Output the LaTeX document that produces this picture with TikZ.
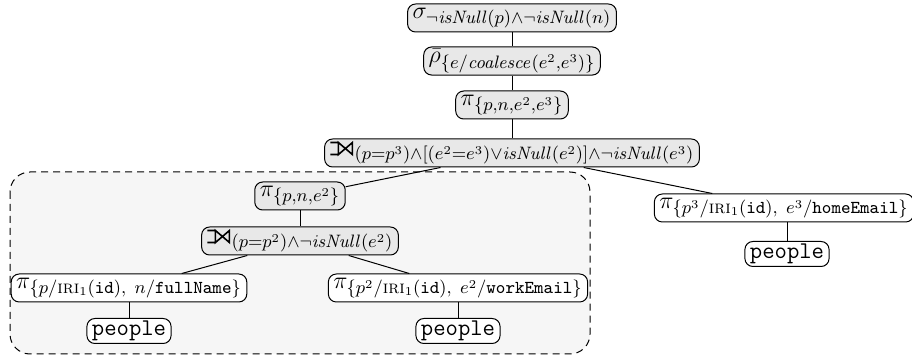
\documentclass[tikz,border=0pt]{standalone}
\usepackage{amsmath}
\usetikzlibrary{positioning}
\definecolor{opgray}{HTML}{E8E8E8}
\definecolor{boxgray}{HTML}{F6F6F6}
\newcommand{\mylojoin}{\mathbin{\tikz[baseline=0pt,x=1pt,y=1pt,line width=0.8pt,sharp corners,miter limit=4]\draw[fill=none] (0,6)--(4,6)--(4,0)--(0,0) (4,0)--(4,6)--(11,0)--(11,6)--cycle;\mkern1mu}}
\newcommand{\tts}[1]{\text{\texttt{#1}}}
\newcommand{\iri}{\text{\textsc{iri}}}
\begin{document}
\begin{tikzpicture}[x=0.5pt,y=-0.5pt,
  opnode/.style={draw,rounded corners=4pt,fill=opgray,inner xsep=2.5pt,inner ysep=1.2pt,minimum height=14pt,line width=0.5pt,font=\fontsize{13}{15}\selectfont},
  basenode/.style={draw,rounded corners=4pt,fill=white,inner xsep=2.5pt,inner ysep=1.2pt,minimum height=14pt,line width=0.5pt,font=\fontsize{13}{15}\selectfont},
  tblnode/.style={draw,rounded corners=4pt,fill=white,inner xsep=2.5pt,inner ysep=1pt,minimum height=12.5pt,line width=0.5pt,font=\fontsize{12}{14}\selectfont\ttfamily},
  conn/.style={line width=0.5pt}]
\useasboundingbox (0,0) rectangle (912,358);
\draw[line width=0.5pt,fill=boxgray,rounded corners=10pt,dash pattern=on 3.5pt off 2.5pt] (10,172) rectangle (590,354);

\node[opnode] (sel) at (512,18) {$\sigma_{\neg\mathit{isNull}(p)\wedge\neg\mathit{isNull}(n)}$};
\node[opnode] (rho) at (512,61) {$\bar{\rho}_{\{e/\mathit{coalesce}(e^2,e^3)\}}$};
\node[opnode] (pi1) at (512,105) {$\pi_{\{p,n,e^2,e^3\}}$};
\node[opnode] (j1) at (512,153) {$\mylojoin_{(p=p^3)\wedge[(e^2=e^3)\vee\mathit{isNull}(e^2)]\wedge\neg\mathit{isNull}(e^3)}$};
\node[opnode] (pi2) at (300,196) {$\pi_{\{p,n,e^2\}}$};
\node[opnode] (j2) at (300,241) {$\mylojoin_{(p=p^2)\wedge\neg\mathit{isNull}(e^2)}$};
\node[basenode] (pa) at (129,288) {$\pi_{\{p/\iri_1(\tts{id}),\ n/\tts{fullName}\}}$};
\node[basenode] (pb) at (458,288) {$\pi_{\{p^2/\iri_1(\tts{id}),\ e^2/\tts{workEmail}\}}$};
\node[basenode] (pc) at (784,208) {$\pi_{\{p^3/\iri_1(\tts{id}),\ e^3/\tts{homeEmail}\}}$};
\node[tblnode] (ta) at (129,331) {people};
\node[tblnode] (tb) at (458,331) {people};
\node[tblnode] (tc) at (787,254) {people};

\draw[conn] (sel) -- (rho);
\draw[conn] (rho) -- (pi1);
\draw[conn] (pi1) -- (j1);
\draw[conn] (j1) -- (pi2);
\draw[conn] (j1) -- (pc);
\draw[conn] (pi2) -- (j2);
\draw[conn] (j2) -- (pa);
\draw[conn] (j2) -- (pb);
\draw[conn] (pa) -- (ta);
\draw[conn] (pb) -- (tb);
\draw[conn] (pc.south -| tc) -- (tc);
\end{tikzpicture}
\end{document}
